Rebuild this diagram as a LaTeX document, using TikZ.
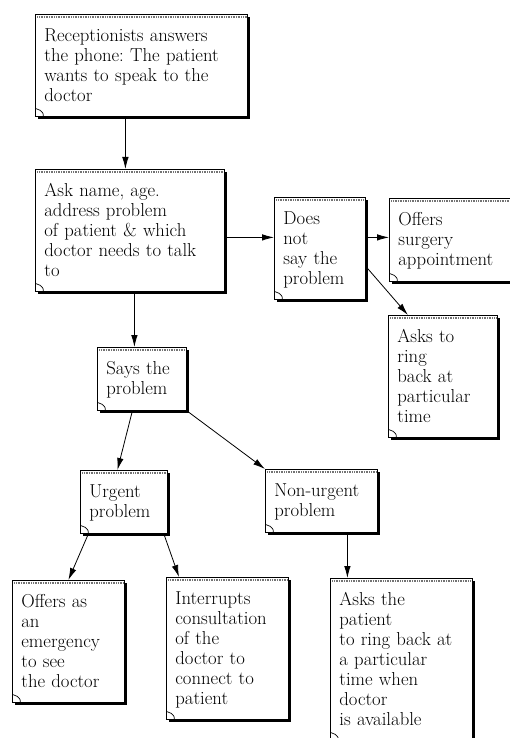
\documentclass[tikz,border=0pt]{standalone}
\usetikzlibrary{arrows.meta,shadows}
\frenchspacing

\tikzset{
  % note card: #1 = text width, #2 = text depth (box height - 27)
  note/.style 2 args={draw, fill=white, line width=0.8pt, anchor=north west,
    align=left, inner xsep=9pt, inner ysep=0pt, text height=27pt,
    text width=#1, text depth=#2,
    font=\fontsize{18.7}{20}\selectfont,
    drop shadow={shadow xshift=2.2pt, shadow yshift=-2.2pt, fill=black, opacity=1},
    path picture={
      \draw[black!55, line width=2pt, dash pattern=on 1pt off 0.7pt]
        ([yshift=-2.5pt]path picture bounding box.north west) --
        ([yshift=-2.5pt]path picture bounding box.north east);
      \draw[line width=0.7pt]
        ([yshift=8pt]path picture bounding box.south west) --
        ([xshift=5pt,yshift=6pt]path picture bounding box.south west) ..
        controls ([xshift=8pt,yshift=3pt]path picture bounding box.south west) ..
        ([xshift=8pt]path picture bounding box.south west);
    }},
  arr/.style={-{Latex[length=12pt,width=6.5pt]}, line width=0.8pt}
}

\begin{document}
\begin{tikzpicture}[x=1pt, y=-1pt]
  \useasboundingbox (0,0) rectangle (510,738);

  % top of the chain
  \node[note={194pt}{75pt}] (rec) at (35,14)
    {Receptionists answers\\the phone: The patient\\wants to speak to the\\doctor};
  \node[note={171pt}{95pt}] (ask) at (35,169)
    {Ask name, age.\\address problem\\of patient \& which\\doctor needs to talk\\to};

  % right branch
  \node[note={73pt}{75pt}] (notsay) at (274,197) {Does\\not\\say the\\problem};
  \node[note={107pt}{56pt}] (surgery) at (389,198) {Offers\\surgery\\appointment};
  \node[note={91pt}{95pt}] (ring) at (388,315) {Asks to\\ring\\back at\\particular\\time};

  % middle
  \node[note={71pt}{36pt}] (says) at (97,347) {Says the\\problem};
  \node[note={69pt}{36pt}] (urgent) at (80,470) {Urgent\\problem};
  \node[note={94pt}{36pt}] (nonurg) at (265,469) {Non-urgent\\problem};

  % bottom row
  \node[note={94pt}{95pt}] (emerg) at (12,580)
    {Offers as\\an\\emergency\\to see\\the doctor};
  \node[note={104pt}{115pt}] (interr) at (166,577)
    {Interrupts\\consultation\\of the\\doctor to\\connect to\\patient};
  \node[note={124pt}{135pt}] (asksp) at (330,578)
    {Asks the\\patient\\to ring back at\\a particular\\time when\\doctor\\is available};

  % connectors
  \draw[arr] ([xshift=-16pt]rec.south) -- ([xshift=-16pt]rec.south |- ask.north);
  \draw[arr] ([yshift=-7pt]ask.east) -- ([yshift=-7pt]ask.east -| notsay.west);
  \draw[arr] ([yshift=2.5pt]surgery.west -| notsay.east) -- ([yshift=2.5pt]surgery.west);
  \draw[arr] ([yshift=-18pt]notsay.east) -- ([xshift=-35pt]ring.north);
  \draw[arr] ([xshift=4.5pt]ask.south) -- ([xshift=4.5pt]ask.south |- says.north);
  \draw[arr] ([xshift=-9.5pt]says.south) -- ([xshift=-6.5pt]urgent.north);
  \draw[arr] (says.south east) -- (nonurg.north west);
  \draw[arr] ([xshift=-35.5pt]urgent.south) -- (emerg.north);
  \draw[arr] ([xshift=-4pt]urgent.south east) -- ([xshift=13pt]interr.north west);
  \draw[arr] ([xshift=26pt]nonurg.south) -- ([xshift=26pt]nonurg.south |- asksp.north);
\end{tikzpicture}
\end{document}
